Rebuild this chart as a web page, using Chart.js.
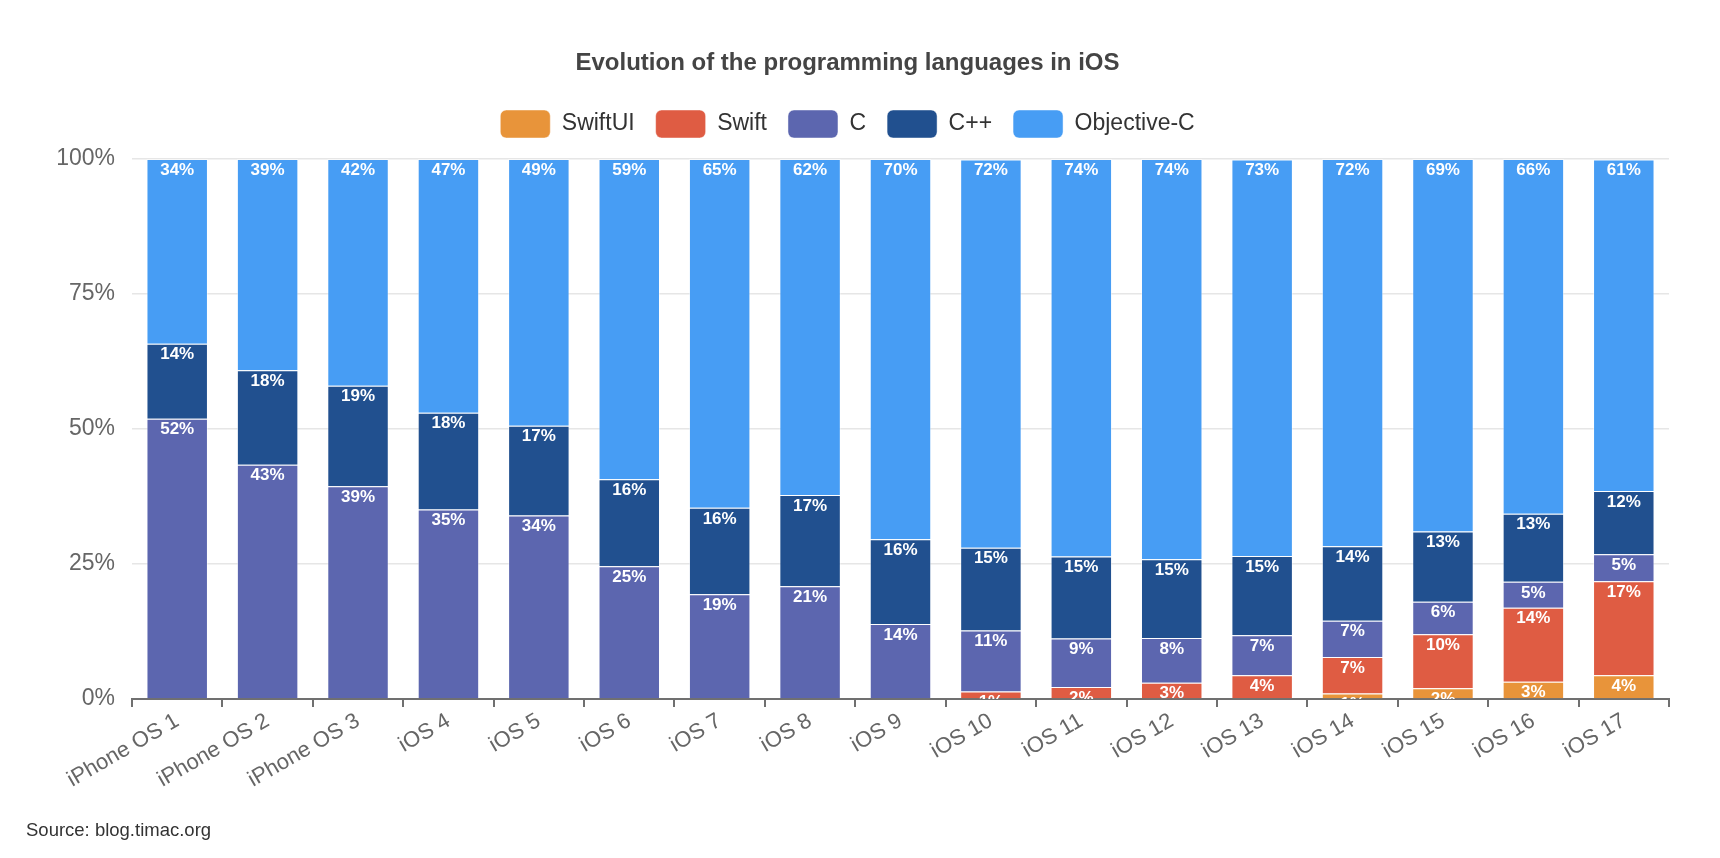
<!DOCTYPE html>
<html>
<head>
<meta charset="utf-8">
<script src="https://cdn.jsdelivr.net/npm/chart.js@4.4.1/dist/chart.umd.min.js"></script>
<style>
  html, body { margin: 0; padding: 0; background: #ffffff; }
  #wrap { width: 1720px; height: 858px; position: relative; }
</style>
</head>
<body>
<div id="wrap"><canvas id="c" width="1720" height="858"></canvas></div>
<script>
const categories = ['iPhone OS 1','iPhone OS 2','iPhone OS 3','iOS 4','iOS 5','iOS 6','iOS 7','iOS 8','iOS 9','iOS 10','iOS 11','iOS 12','iOS 13','iOS 14','iOS 15','iOS 16','iOS 17'];
const swiftUI    = [0,0,0,0,0,0,0,0,0,0,0,0,0,1.0,2.0,3.2,4.4];
const swift      = [0,0,0,0,0,0,0,0,0,1.4,2.2,3.0,4.4,6.8,10.0,13.7,17.4];
const cLang      = [51.9,43.4,39.4,35.1,34.0,24.6,19.4,20.9,13.9,11.3,9.0,8.3,7.4,6.7,6.0,4.8,5.0];
const cpp        = [13.9,17.5,18.6,17.9,16.6,16.1,16.0,16.9,15.7,15.3,15.2,14.6,14.7,13.8,13.0,12.6,11.7];
const objectiveC = [34.2,39.1,42.0,47.0,49.4,59.3,64.6,62.2,70.4,71.9,73.6,74.1,73.4,71.7,69.0,65.7,61.4];
const yTicks = [0, 25, 50, 75, 100];

const seriesNames = ['SwiftUI','Swift','C','C++','Objective-C'];
const seriesData = [swiftUI, swift, cLang, cpp, objectiveC];
const seriesColors = ['#E8943A','#DF5C43','#5C66AF','#21508F','#479DF4'];

Chart.defaults.font.family = '"Liberation Sans", Arial, Helvetica, sans-serif';

const labelPlugin = {
  id: 'segLabels',
  afterDatasetsDraw(chart) {
    const ctx = chart.ctx;
    const area = chart.chartArea;
    ctx.save();
    ctx.beginPath();
    ctx.rect(area.left, area.top, area.right - area.left, area.bottom - area.top);
    ctx.clip();
    ctx.fillStyle = '#ffffff';
    ctx.font = 'bold 17px "Liberation Sans", Arial, sans-serif';
    ctx.textAlign = 'center';
    ctx.textBaseline = 'middle';
    chart.data.datasets.forEach((ds, di) => {
      const meta = chart.getDatasetMeta(di);
      meta.data.forEach((bar, i) => {
        const v = ds.data[i];
        if (!v) return;
        ctx.fillText(Math.round(v) + '%', bar.x, bar.y + 11);
      });
    });
    ctx.restore();
  }
};

// empty layout box: gap between the legend and the plot area
const spacerPlugin = {
  id: 'legendSpacer',
  start(chart) {
    const box = {
      position: 'top',
      weight: 1,
      fullSize: true,
      options: {},
      width: 0, height: 0, left: 0, top: 0, right: 0, bottom: 0,
      isHorizontal() { return true; },
      update(maxWidth) { this.width = maxWidth; this.height = 11; },
      draw() {}
    };
    Chart.layouts.addBox(chart, box);
  }
};

new Chart(document.getElementById('c'), {
  type: 'bar',
  data: {
    labels: categories,
    datasets: seriesNames.map((name, i) => ({
      label: name,
      data: seriesData[i],
      backgroundColor: seriesColors[i],
      borderColor: 'rgba(255,255,255,0.45)',
      borderWidth: 1,
      categoryPercentage: 1.0,
      barPercentage: 0.68
    }))
  },
  options: {
    responsive: false,
    animation: false,
    layout: { padding: { left: 26, right: 51, top: 0, bottom: 0 } },
    plugins: {
      title: {
        display: true,
        text: 'Evolution of the programming languages in iOS',
        color: '#444444',
        font: { size: 24, weight: 'bold' },
        padding: { top: 48.6, bottom: 11.6 }
      },
      subtitle: {
        display: true,
        position: 'bottom',
        align: 'start',
        text: 'Source: blog.timac.org',
        color: '#333333',
        font: { size: 18.5 },
        padding: { top: 21, bottom: 15.8 }
      },
      legend: {
        display: true,
        position: 'top',
        labels: {
          color: '#333333',
          font: { size: 23 },
          boxWidth: 50,
          boxHeight: 28,
          padding: 21,
          useBorderRadius: true,
          borderRadius: 6
        }
      },
      tooltip: { enabled: false }
    },
    scales: {
      x: {
        stacked: true,
        offset: true,
        grid: {
          display: true,
          drawOnChartArea: false,
          drawTicks: true,
          tickLength: 8,
          color: '#707070',
          lineWidth: 2,
          offset: true
        },
        border: { display: true, color: '#707070', width: 2 },
        ticks: {
          color: '#666666',
          font: { size: 22 },
          minRotation: 30,
          maxRotation: 30,
          autoSkip: false,
          padding: 1
        },
        afterFit(scale) { scale.height = 100; }
      },
      y: {
        stacked: true,
        min: 0,
        max: 100,
        afterBuildTicks(scale) { scale.ticks = yTicks.map(v => ({ value: v })); },
        grid: { color: '#e6e6e6', lineWidth: 1.5, drawTicks: false },
        border: { display: false },
        ticks: {
          color: '#666666',
          font: { size: 23 },
          padding: 17,
          callback: (v) => v + '%'
        },
        afterFit(scale) { scale.width = 106; }
      }
    }
  },
  plugins: [spacerPlugin, labelPlugin]
});
</script>
</body>
</html>
